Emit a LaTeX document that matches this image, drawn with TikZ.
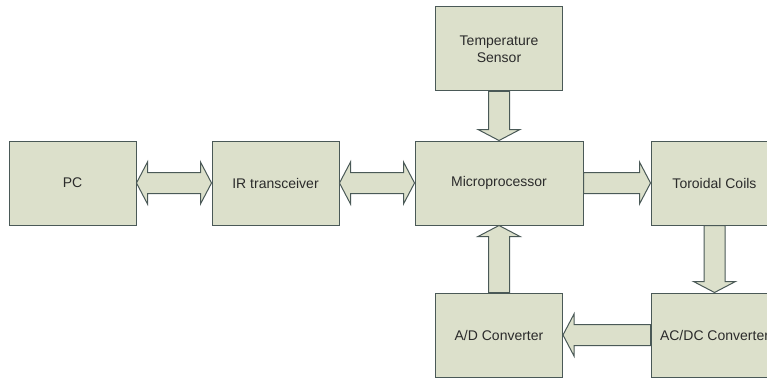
\documentclass[tikz,border=0pt]{standalone}
\usepackage{fontspec}
\setmainfont{Liberation Sans}
\usetikzlibrary{calc}

\definecolor{boxfill}{HTML}{DCE0CB}
\definecolor{boxline}{HTML}{4A5957}
\definecolor{labeltext}{HTML}{2B2B2B}

\tikzset{
  block/.style={draw=boxline, fill=boxfill, line width=1pt,
    minimum width=127pt, minimum height=84pt, inner sep=0pt,
    text=labeltext, font=\fontsize{14}{17}\selectfont, align=center},
  fatarrow/.style={draw=boxline, fill=boxfill, line width=1pt, line join=miter},
}

% Block arrow with one head, from #1 to #2
\newcommand\onewayarrow[2]{%
  \path[fatarrow] let \p1=(#1), \p2=(#2),
    \n1={atan2(\y2-\y1,\x2-\x1)}, \n2={veclen(\x2-\x1,\y2-\y1)} in
    [shift={(\p1)}, rotate=\n1]
    (0pt,10.5pt) -- ({\n2-11pt},10.5pt) -- ({\n2-11pt},21pt) -- ({\n2+0pt},0pt)
    -- ({\n2-11pt},-21pt) -- ({\n2-11pt},-10.5pt) -- (0pt,-10.5pt) -- cycle;}

% Block arrow with heads at both ends
\newcommand\twowayarrow[2]{%
  \path[fatarrow] let \p1=(#1), \p2=(#2),
    \n1={atan2(\y2-\y1,\x2-\x1)}, \n2={veclen(\x2-\x1,\y2-\y1)} in
    [shift={(\p1)}, rotate=\n1]
    (0pt,0pt) -- (11pt,21pt) -- (11pt,10.5pt) -- ({\n2-11pt},10.5pt)
    -- ({\n2-11pt},21pt) -- ({\n2+0pt},0pt) -- ({\n2-11pt},-21pt)
    -- ({\n2-11pt},-10.5pt) -- (11pt,-10.5pt) -- (11pt,-21pt) -- cycle;}

\begin{document}
\begin{tikzpicture}[x=1pt, y=-1pt]
  \useasboundingbox (0,0) rectangle (767,377);
  \path[clip] (0,0) rectangle (767,377);

  % blocks
  \node[block] (pc)    at (72.5,183)  {PC};
  \node[block] (ir)    at (275.5,183) {IR transceiver};
  \node[block, minimum width=168pt] (mcu) at (499,183) {Microprocessor};
  \node[block] (temp)  at (499,49)    {Temperature\\Sensor};
  \node[block] (coils) at (714.5,183) {Toroidal Coils};
  \node[block] (acdc)  at (714.5,335) {AC/DC Converter};
  \node[block] (adc)   at (499,335)   {A/D Converter};

  % block arrows
  \twowayarrow{pc.east}{ir.west}
  \twowayarrow{ir.east}{mcu.west}
  \onewayarrow{mcu.east}{coils.west}
  \onewayarrow{temp.south}{mcu.north}
  \onewayarrow{coils.south}{acdc.north}
  \onewayarrow{acdc.west}{adc.east}
  \onewayarrow{adc.north}{mcu.south}
\end{tikzpicture}
\end{document}
